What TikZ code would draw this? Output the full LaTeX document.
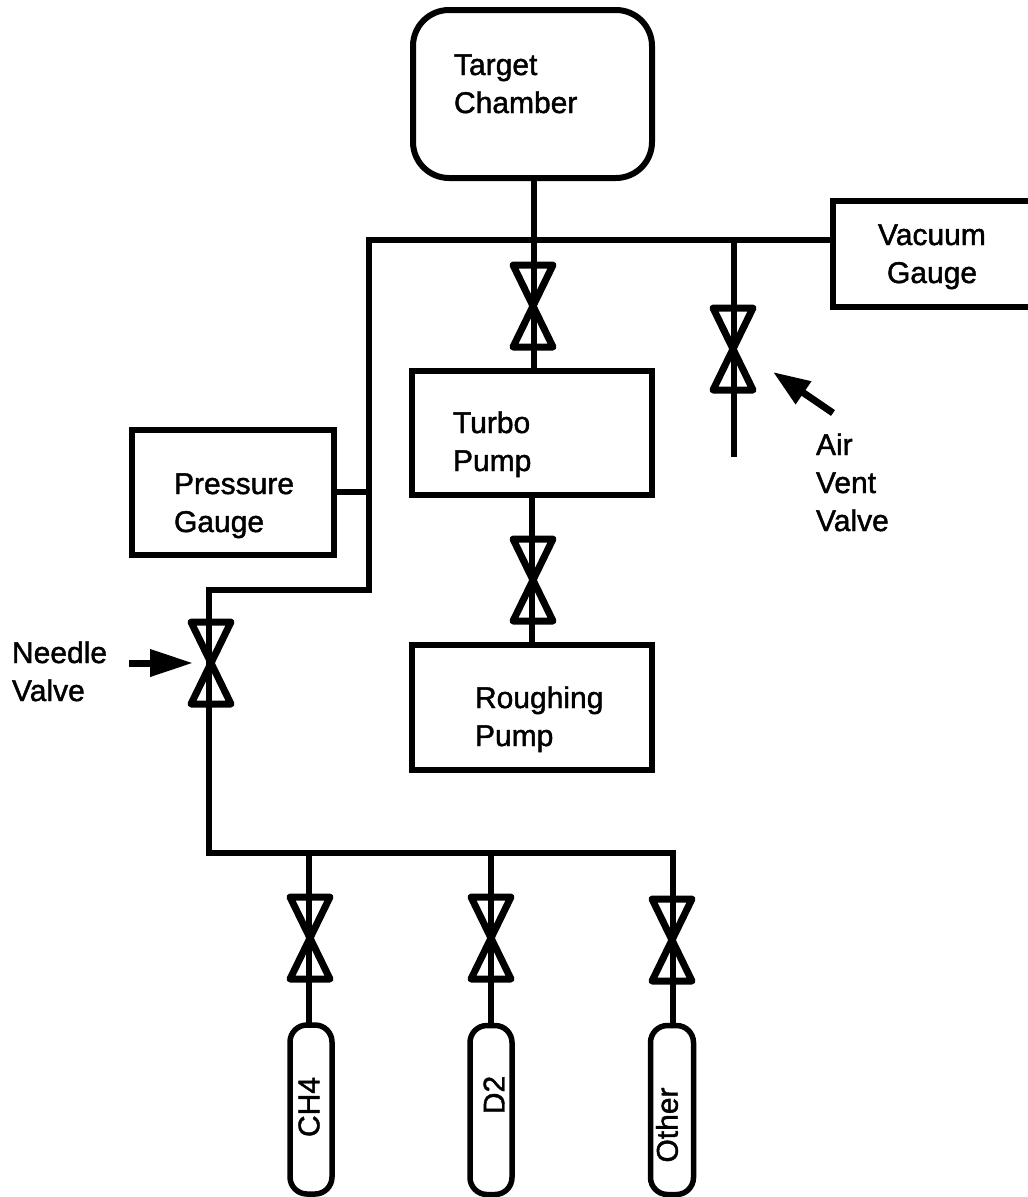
\documentclass[tikz,border=0pt]{standalone}
\usepackage{fontspec}
\setmainfont{Liberation Sans}[RawFeature={embolden=1.4}]
\usetikzlibrary{arrows.meta}
\tikzset{
  unitbox/.style={draw=black,line width=6pt,outer sep=0pt,inner sep=0pt,minimum width=#1},
  pipe/.style={draw=black,line width=6pt,line cap=butt,line join=miter},
  valvebody/.style={draw=black,line width=7pt,line join=round},
  valvebox/.style={inner sep=0pt,outer sep=0pt,minimum width=40pt,minimum height=82pt},
  cylinder body/.style={draw=black,line width=5.5pt,rounded corners=17pt,inner sep=0pt,outer sep=0pt,minimum width=42pt,minimum height=169pt},
  lab/.style={font=\fontsize{30}{38}\selectfont,align=left,inner sep=0pt,outer sep=0pt,anchor=base west,text=black},
  rotlab/.style={font=\fontsize{30}{38}\selectfont,inner sep=0pt,outer sep=0pt,rotate=90,text=black},
  pointer/.style={draw=black,fill=black,line width=7pt,-{Triangle[length=#1,width=26pt]}}
}
\newcommand{\valvesym}[3]{%
  \node[valvebox] (#1) at (#2,#3) {};
  \draw[valvebody] (#1.north west) -- (#1.north east) -- (#1.south west) -- (#1.south east) -- cycle;
}
\begin{document}
\begin{tikzpicture}[x=1pt,y=-1pt]
\path[use as bounding box,fill=white] (0,0) rectangle (1028,1197);

% boxes
\node[unitbox=239pt,minimum height=168pt,rounded corners=36pt] (chamber) at (532.5,94) {};
\node[unitbox=240pt,minimum height=124pt] (turbo) at (532,433) {};
\node[unitbox=240pt,minimum height=125pt] (rough) at (532,707.5) {};
\node[unitbox=202pt,minimum height=125pt] (pgauge) at (233,492.5) {};
\node[inner sep=0pt,outer sep=0pt,minimum width=195pt,minimum height=106pt] (vgauge) at (930.5,253.5) {};
\draw[draw=black,line width=6pt,line join=miter] (vgauge.north east) -- (vgauge.north west) -- (vgauge.south west) -- (vgauge.south east);

% cylinders
\node[cylinder body] (cyla) at (311,1109.5) {};
\node[cylinder body] (cylb) at (491,1110) {};
\node[cylinder body,minimum width=43pt] (cylc) at (672,1110) {};

% valves
\valvesym{vmain}{533}{306}
\valvesym{vair}{733}{349}
\valvesym{vturbo}{533}{580}
\valvesym{vneedle}{211}{663}
\valvesym{vcha}{310}{938}
\valvesym{vchb}{491}{938}
\valvesym{vchc}{672}{940}

% junctions and free ends
\coordinate (jtop) at (534,240);
\coordinate (jair) at (734,240);
\coordinate (jcorner) at (369,240);
\coordinate (jp) at (369,492);
\coordinate (jlow) at (369,590);
\coordinate (airend) at (734,457);
\coordinate (jbus) at (209,853);
\coordinate (jbusb) at (491,853);
\coordinate (jbusa) at (309,853);
\coordinate (jbusc) at (673,853);

% pipes
\draw[pipe] (vgauge.west |- jtop) -- (jcorner) -- (jlow) -- (209,590) -- (jbus) -- (jbusc) -- (jbusc |- cylc.north);
\draw[pipe] (chamber.south -| jtop) -- (turbo.north -| jtop);
\draw[pipe] (turbo.south) -- (rough.north);
\draw[pipe] (jair) -- (airend);
\draw[pipe] (pgauge.east |- jp) -- (jp);
\draw[pipe] (jbusa) -- (jbusa |- cyla.north);
\draw[pipe] (jbusb) -- (cylb.north);

% pointers
\coordinate (airtail) at (833,413);
\coordinate (airtip) at (773,372);
\coordinate (needletail) at (129,663);
\coordinate (needletip) at (193,663);
\draw[pointer=37pt] (airtail) -- (airtip);
\draw[pointer=43pt] (needletail) -- (needletip);

% labels
\node[lab] (tchamber) at (454,113) {Target\\Chamber};
\node[lab] (tvac) at (878,245) {Vacuum};
\node[lab] (tvac2) at (887,283) {Gauge};
\node[lab] (tturbo) at (453,471) {Turbo\\Pump};
\node[lab] (tair) at (816,531) {Air\\Vent\\Valve};
\node[lab] (tpress) at (174,532) {Pressure\\Gauge};
\node[lab] (tneedle) at (12,701) {Needle\\Valve};
\node[lab] (trough) at (475,746) {Roughing\\Pump};
\node[rotlab] (tch4) at (309,1107) {CH4};
\node[rotlab] (td2) at (494,1095) {D2};
\node[rotlab] (tother) at (667,1125) {Other};
\end{tikzpicture}
\end{document}
